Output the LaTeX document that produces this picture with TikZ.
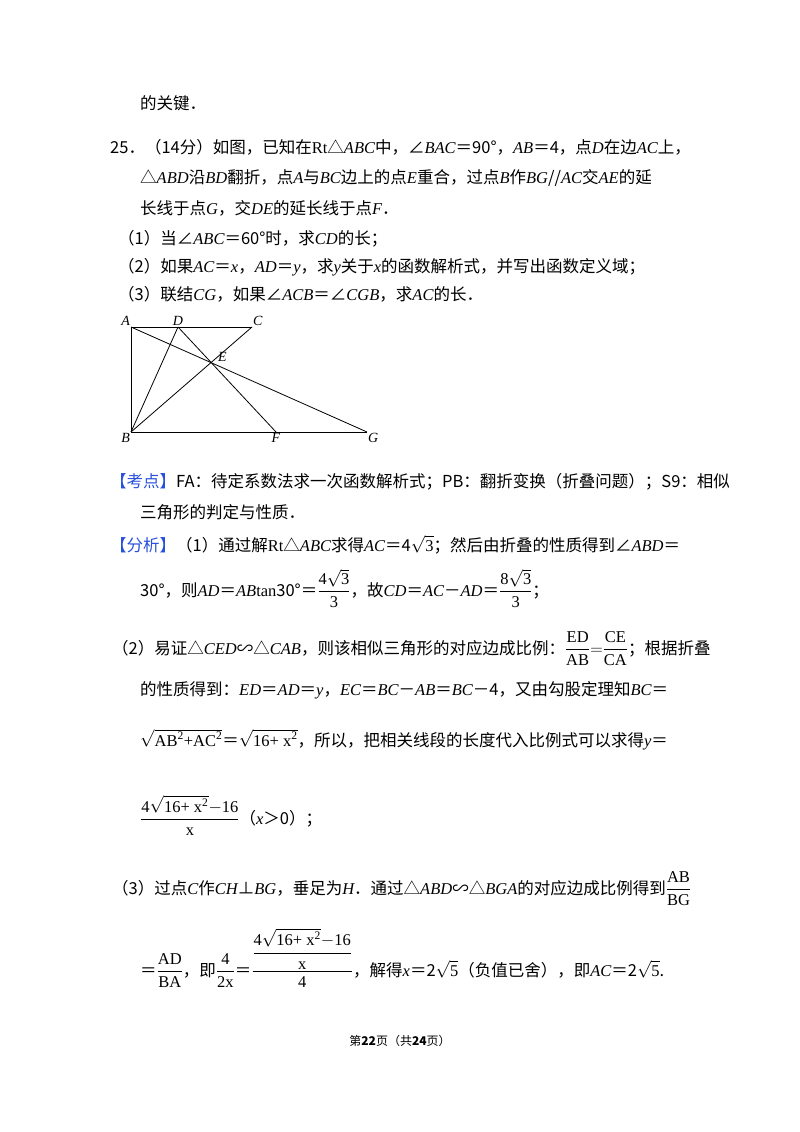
\documentclass[tikz,border=0pt]{standalone}
\usepackage{amsmath}
\usepackage{fontspec}
\setmainfont{Noto Sans CJK SC}
\newfontfamily\tm{Liberation Serif}
\newcommand\I[1]{{\tm\itshape #1}}
\newcommand\R[1]{\text{\tm #1}}
\definecolor{kblue}{RGB}{40,80,220}
\begin{document}
\begin{tikzpicture}[x=1pt,y=-1pt,
  ln/.style={anchor=base west,inner sep=0pt,font=\fontsize{16.5}{19}\selectfont},
  lab/.style={font=\tm\itshape\fontsize{14}{16}\selectfont,inner sep=1pt},
  seg/.style={line width=0.8pt}]
\useasboundingbox[fill=white] (0,0) rectangle (800,1132);
\node[ln] (l1) at (140,109) {的关键．};
\node[ln] (l2) at (110,153) {25．（14分）如图，已知在{\tm Rt}△\I{ABC}中，∠\I{BAC}＝90°，\I{AB}＝4，点\I{D}在边\I{AC}上，};
\node[ln] (l3) at (140,183) {△\I{ABD}沿\I{BD}翻折，点\I{A}与\I{BC}边上的点\I{E}重合，过点\I{B}作\I{BG}//\I{AC}交\I{AE}的延};
\node[ln] (l4) at (140,214) {长线于点\I{G}，交\I{DE}的延长线于点\I{F}．};
\node[ln] (l5) at (118,244) {（1）当∠\I{ABC}＝60°时，求\I{CD}的长；};
\node[ln] (l6) at (118,272) {（2）如果\I{AC}＝\I{x}，\I{AD}＝\I{y}，求\I{y}关于\I{x}的函数解析式，并写出函数定义域；};
\node[ln] (l7) at (118,300) {（3）联结\I{CG}，如果∠\I{ACB}＝∠\I{CGB}，求\I{AC}的长．};
% figure
\coordinate (A) at (131,327);
\coordinate (D) at (178,327);
\coordinate (C) at (252,327);
\coordinate (B) at (131,432);
\coordinate (F) at (276,432);
\coordinate (G) at (367,432);
\coordinate (E) at (intersection of A--G and B--C);
\draw[seg] (A) -- (C);
\draw[seg] (A) -- (B) -- (G);
\draw[seg] (A) -- (G);
\draw[seg] (B) -- (C);
\draw[seg] (B) -- (D);
\draw[seg] (D) -- (F);
\node[lab,anchor=south east] (lA) at (A) {A};
\node[lab,anchor=south] (lD) at (D) {D};
\node[lab,anchor=south west] (lC) at (C) {C};
\node[lab,anchor=south west] (lE) at ([xshift=6pt]E) {E};
\node[lab,anchor=north east] (lB) at (B) {B};
\node[lab,anchor=north] (lF) at (F) {F};
\node[lab,anchor=north west] (lG) at (G) {G};
% analysis
\node[ln] (k1) at (110,487) {{\color{kblue}【考点】}FA：待定系数法求一次函数解析式；PB：翻折变换（折叠问题）；S9：相似};
\node[ln] (k2) at (140,518) {三角形的判定与性质．};
\node[ln] (f1) at (110,551) {{\color{kblue}【分析】}（1）通过解{\tm Rt}△\I{ABC}求得\I{AC}＝4$\sqrt{\R{3}}$；然后由折叠的性质得到∠\I{ABD}＝};
\node[ln] (f2) at (140,596) {30°，则\I{AD}＝\I{AB}{\tm tan}30°＝$\dfrac{\R{4}\sqrt{\R{3}}}{\R{3}}$，故\I{CD}＝\I{AC}－\I{AD}＝$\dfrac{\R{8}\sqrt{\R{3}}}{\R{3}}$；};
\node[ln] (f3) at (112,654) {（2）易证△\I{CED}∽△\I{CAB}，则该相似三角形的对应边成比例：$\dfrac{\R{ED}}{\R{AB}}{=}\dfrac{\R{CE}}{\R{CA}}$；根据折叠};
\node[ln] (f4) at (140,695) {的性质得到：\I{ED}＝\I{AD}＝\I{y}，\I{EC}＝\I{BC}－\I{AB}＝\I{BC}－4，又由勾股定理知\I{BC}＝};
\node[ln] (f5) at (140,746) {$\sqrt{\R{AB}^{\R{2}}\R{+AC}^{\R{2}}}$＝$\sqrt{\R{16+ x}^{\R{2}}}$，所以，把相关线段的长度代入比例式可以求得\I{y}＝};
\node[ln] (f6) at (140,824) {$\dfrac{\R{4}\sqrt{\R{16+ x}^{\R{2}}}\R{$-$16}}{\R{x}}$（\I{x}＞0）；};
\node[ln] (f7) at (112,894) {（3）过点\I{C}作\I{CH}⊥\I{BG}，垂足为\I{H}．通过△\I{ABD}∽△\I{BGA}的对应边成比例得到$\dfrac{\R{AB}}{\R{BG}}$};
\node[ln] (f8) at (140,976) {＝$\dfrac{\R{AD}}{\R{BA}}$，即$\dfrac{\R{4}}{\R{2x}}$＝$\dfrac{\dfrac{\R{4}\sqrt{\R{16+ x}^{\R{2}}}\R{$-$16}}{\R{x}}}{\R{4}}$，解得\I{x}＝2$\sqrt{\R{5}}$（负值已舍），即\I{AC}＝2$\sqrt{\R{5}}$.};
\node[anchor=base,inner sep=0pt,font=\fontsize{12}{14}\selectfont] (ft) at (400,1045) {第\textbf{22}页（共\textbf{24}页）};
\end{tikzpicture}
\end{document}
